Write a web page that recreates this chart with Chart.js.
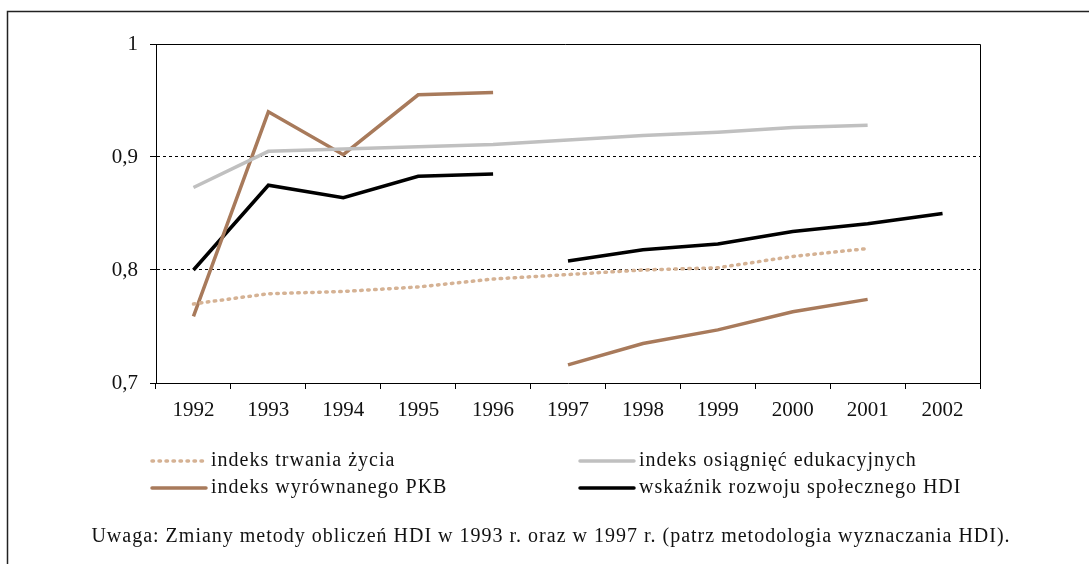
<!DOCTYPE html>
<html>
<head>
<meta charset="utf-8">
<script src="https://cdn.jsdelivr.net/npm/chart.js@4/dist/chart.umd.min.js"></script>
<style>
  html, body { margin: 0; padding: 0; background: #fff; }
  #wrap { position: relative; width: 1089px; height: 564px; }
</style>
</head>
<body>
<div id="wrap"><canvas id="chart-hdi" width="1089" height="564"></canvas></div>
<script>
var years = ['1992', '1993', '1994', '1995', '1996', '1997', '1998', '1999', '2000', '2001', '2002'];
var zycie = [0.770, 0.779, 0.781, 0.785, 0.792, 0.796, 0.800, 0.802, 0.812, 0.819, null];
var edukacja = [0.873, 0.905, 0.907, 0.909, 0.911, 0.915, 0.919, 0.922, 0.926, 0.928, null];
var pkb = [0.759, 0.940, 0.902, 0.955, 0.957, 0.716, 0.735, 0.747, 0.763, 0.774, null];
var hdi = [0.800, 0.875, 0.864, 0.883, 0.885, 0.808, 0.818, 0.823, 0.834, 0.841, 0.850];
var seriesNames = ['indeks trwania życia', 'indeks osiągnięć edukacyjnych',
                   'indeks wyrównanego PKB', 'wskaźnik rozwoju społecznego HDI'];
var note = 'Uwaga: Zmiany metody obliczeń HDI w 1993 r. oraz w 1997 r. (patrz metodologia wyznaczania HDI).';

var serif = "'Liberation Serif', serif";

// przerwa w serii między 1996 a 1997 (zmiana metodologii)
function przerwa(ctx) {
    return ctx.p0DataIndex === 4 ? 'rgba(0,0,0,0)' : undefined;
}

var ramka = {
    id: 'ramka',
    beforeDraw: function (chart) {
        var c = chart.ctx;
        c.save();
        c.strokeStyle = '#222';
        c.lineWidth = 1.5;
        c.beginPath();
        c.moveTo(7.5, 600);
        c.lineTo(7.5, 11.5);
        c.lineTo(1100, 11.5);
        c.stroke();
        c.restore();
    },
    afterDatasetsDraw: function (chart) {
        var a = chart.chartArea, c = chart.ctx;
        c.save();
        c.strokeStyle = '#000';
        c.lineWidth = 1;
        c.beginPath();
        c.moveTo(a.left - 6, Math.round(a.top) + 0.5);
        c.lineTo(Math.round(a.right) + 0.5, Math.round(a.top) + 0.5);
        c.lineTo(Math.round(a.right) + 0.5, a.bottom);
        c.stroke();
        c.restore();
    },
    afterDraw: function (chart) {
        var c = chart.ctx;
        var pos = [[150, 461], [578, 461], [150, 488], [578, 488]];
        c.save();
        c.font = '20px ' + serif;
        c.letterSpacing = '1px';
        c.textBaseline = 'middle';
        chart.data.datasets.forEach(function (ds, i) {
            var x = pos[i][0], y = pos[i][1];
            c.strokeStyle = ds.borderColor;
            c.lineWidth = ds.borderWidth;
            c.lineCap = 'round';
            c.setLineDash(ds.borderDash || []);
            c.beginPath();
            c.moveTo(x + 2, y);
            c.lineTo(x + 56, y);
            c.stroke();
            c.setLineDash([]);
            c.fillStyle = '#111';
            c.textAlign = 'left';
            c.fillText(ds.label, x + 61, y);
        });
        c.textAlign = 'center';
        c.fillText(note, 551, 537);
        c.restore();
    }
};

var ctx = document.getElementById('chart-hdi').getContext('2d');
var chart = new Chart(ctx, {
    type: 'line',
    data: {
        labels: years,
        datasets: [{
            label: seriesNames[0],
            data: zycie,
            borderColor: '#d5b294',
            borderWidth: 3.5,
            borderDash: [1.5, 5.5],
            borderCapStyle: 'round',
            pointRadius: 0,
            tension: 0
        }, {
            label: seriesNames[1],
            data: edukacja,
            borderColor: '#c0c0c0',
            borderWidth: 3.5,
            pointRadius: 0,
            tension: 0
        }, {
            label: seriesNames[2],
            data: pkb,
            borderColor: '#a87a5b',
            borderWidth: 3.5,
            pointRadius: 0,
            tension: 0,
            segment: { borderColor: przerwa }
        }, {
            label: seriesNames[3],
            data: hdi,
            borderColor: '#000000',
            borderWidth: 3.5,
            pointRadius: 0,
            tension: 0,
            segment: { borderColor: przerwa }
        }]
    },
    plugins: [ramka],
    options: {
        responsive: false,
        animation: false,
        layout: { padding: { top: 44, left: 0, right: 109, bottom: 141 } },
        plugins: {
            legend: { display: false },
            tooltip: { enabled: false }
        },
        scales: {
            x: {
                offset: true,
                afterFit: function (s) { s.height = 40; },
                grid: {
                    offset: true,
                    drawOnChartArea: false,
                    drawTicks: true,
                    tickLength: 6,
                    tickColor: '#000'
                },
                border: { display: true, color: '#000', width: 1 },
                ticks: {
                    color: '#111',
                    padding: 9,
                    maxRotation: 0,
                    autoSkip: false,
                    font: { family: serif, size: 21 }
                }
            },
            y: {
                min: 0.7,
                max: 1,
                afterFit: function (s) { s.width = 156; },
                grid: {
                    color: function (c) {
                        return (c.tick.value > 0.75 && c.tick.value < 0.95) ? '#000' : 'rgba(0,0,0,0)';
                    },
                    lineWidth: 1,
                    tickLength: 6,
                    tickColor: '#000',
                    tickBorderDash: [0, 0]
                },
                border: { display: true, color: '#000', width: 1, dash: [3, 3] },
                ticks: {
                    stepSize: 0.1,
                    color: '#111',
                    padding: 12,
                    font: { family: serif, size: 21 },
                    callback: function (v) {
                        return v === 1 ? '1' : v.toFixed(1).replace('.', ',');
                    }
                }
            }
        }
    }
});
</script>
</body>
</html>
